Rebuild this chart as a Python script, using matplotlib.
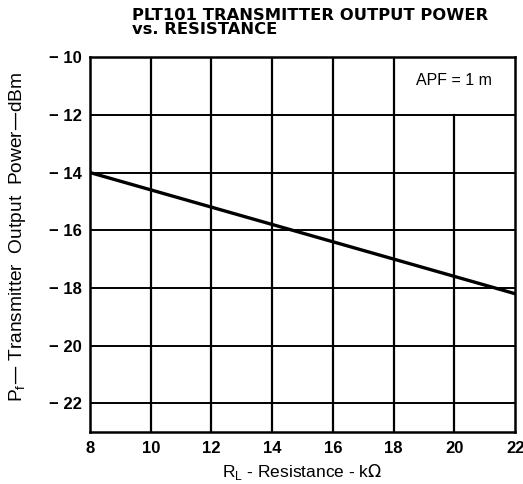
import matplotlib
matplotlib.use("Agg")
import matplotlib.pyplot as plt

plt.rcParams["font.family"] = ["Liberation Sans", "DejaVu Sans"]

# data
resistance_k = [8, 22]
power_dbm = [-14.0, -18.2]
x_ticks = [8, 10, 12, 14, 16, 18, 20, 22]
y_ticks = [-10, -12, -14, -16, -18, -20, -22]

fig = plt.figure(figsize=(5.23, 4.84), dpi=100)
ax = fig.add_axes([0.172, 0.107, 0.813, 0.775])

ax.set_xlim(8, 22)
ax.set_ylim(-23, -10)

# grid, with the x=20 line stopping under the APF label box
for xv in x_ticks[1:-1]:
    top = -12 if xv == 20 else -10
    ax.plot([xv, xv], [-23, top], color="black", lw=1.6)
for yv in y_ticks[1:]:
    ax.plot([8, 22], [yv, yv], color="black", lw=1.4)

ax.plot(resistance_k, power_dbm, color="black", lw=2.4)

ax.text(20.0, -10.8, "APF = 1 m", ha="center", va="center", fontsize=11.5)

for s in ax.spines.values():
    s.set_linewidth(1.8)

ax.set_xticks(x_ticks)
ax.set_yticks(y_ticks)
ax.set_yticklabels(["\u2212 %d" % abs(v) for v in y_ticks])
ax.tick_params(length=0, labelsize=12, pad=6)
for lab in ax.get_xticklabels() + ax.get_yticklabels():
    lab.set_fontweight("bold")

ax.set_xlabel(r"R$_\mathregular{L}$ - Resistance - k$\Omega$", fontsize=12.5, labelpad=5)

fig.text(0.033, 0.51, r"P$_\mathregular{f}$" + "\u2014 Transmitter  Output  Power\u2014dBm",
         fontsize=13.8, rotation=90, ha="center", va="center")

fig.text(0.252, 0.924, "PLT101 TRANSMITTER OUTPUT POWER\nvs. RESISTANCE",
         fontsize=11.8, fontweight="bold", family="DejaVu Sans",
         ha="left", va="bottom", linespacing=0.9)

fig.savefig("out.png", dpi=100)
plt.close(fig)
